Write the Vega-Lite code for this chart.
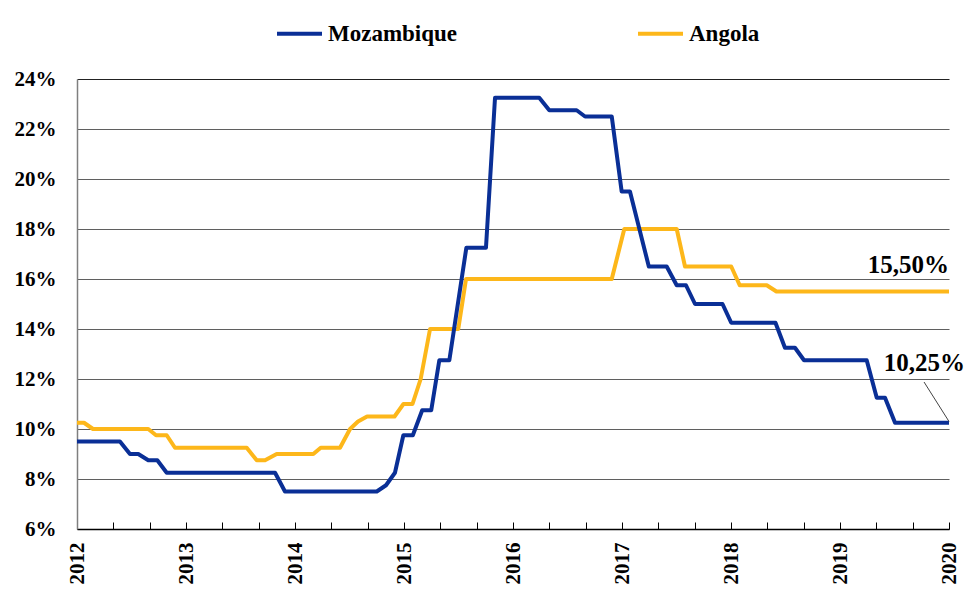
{
  "$schema": "https://vega.github.io/schema/vega-lite/v6.json",
  "autosize": {"type": "none"},
  "width": 872,
  "height": 450,
  "padding": {"left": 77, "top": 79, "right": 20, "bottom": 60},
  "background": "white",
  "config": {
    "view": {"stroke": null},
    "font": "Liberation Serif",
    "axis": {"labelFont": "Liberation Serif", "labelFontWeight": "bold", "labelColor": "black"},
    "legend": {"labelFont": "Liberation Serif", "labelFontWeight": "bold"}
  },
  "resolve": {"axis": {"x": "independent"}},
  "layer": [
    {
      "data": {
        "values": [
          {"country": "Angola", "t": 2012.000, "v": 10.25},
          {"country": "Angola", "t": 2012.064, "v": 10.25},
          {"country": "Angola", "t": 2012.147, "v": 10.0},
          {"country": "Angola", "t": 2012.654, "v": 10.0},
          {"country": "Angola", "t": 2012.725, "v": 9.75},
          {"country": "Angola", "t": 2012.823, "v": 9.75},
          {"country": "Angola", "t": 2012.899, "v": 9.25},
          {"country": "Angola", "t": 2013.557, "v": 9.25},
          {"country": "Angola", "t": 2013.649, "v": 8.75},
          {"country": "Angola", "t": 2013.725, "v": 8.75},
          {"country": "Angola", "t": 2013.832, "v": 9.0},
          {"country": "Angola", "t": 2014.168, "v": 9.0},
          {"country": "Angola", "t": 2014.236, "v": 9.25},
          {"country": "Angola", "t": 2014.413, "v": 9.25},
          {"country": "Angola", "t": 2014.505, "v": 10.0},
          {"country": "Angola", "t": 2014.578, "v": 10.3},
          {"country": "Angola", "t": 2014.661, "v": 10.5},
          {"country": "Angola", "t": 2014.913, "v": 10.5},
          {"country": "Angola", "t": 2014.995, "v": 11.0},
          {"country": "Angola", "t": 2015.078, "v": 11.0},
          {"country": "Angola", "t": 2015.153, "v": 12.0},
          {"country": "Angola", "t": 2015.239, "v": 14.0},
          {"country": "Angola", "t": 2015.498, "v": 14.0},
          {"country": "Angola", "t": 2015.569, "v": 16.0},
          {"country": "Angola", "t": 2016.906, "v": 16.0},
          {"country": "Angola", "t": 2017.021, "v": 18.0},
          {"country": "Angola", "t": 2017.502, "v": 18.0},
          {"country": "Angola", "t": 2017.578, "v": 16.5},
          {"country": "Angola", "t": 2018.002, "v": 16.5},
          {"country": "Angola", "t": 2018.080, "v": 15.75},
          {"country": "Angola", "t": 2018.328, "v": 15.75},
          {"country": "Angola", "t": 2018.417, "v": 15.5},
          {"country": "Angola", "t": 2020.000, "v": 15.5},
          {"country": "Mozambique", "t": 2012.000, "v": 9.5},
          {"country": "Mozambique", "t": 2012.394, "v": 9.5},
          {"country": "Mozambique", "t": 2012.486, "v": 9.0},
          {"country": "Mozambique", "t": 2012.562, "v": 9.0},
          {"country": "Mozambique", "t": 2012.654, "v": 8.75},
          {"country": "Mozambique", "t": 2012.737, "v": 8.75},
          {"country": "Mozambique", "t": 2012.823, "v": 8.25},
          {"country": "Mozambique", "t": 2013.817, "v": 8.25},
          {"country": "Mozambique", "t": 2013.908, "v": 7.5},
          {"country": "Mozambique", "t": 2014.750, "v": 7.5},
          {"country": "Mozambique", "t": 2014.835, "v": 7.75},
          {"country": "Mozambique", "t": 2014.917, "v": 8.25},
          {"country": "Mozambique", "t": 2014.994, "v": 9.75},
          {"country": "Mozambique", "t": 2015.081, "v": 9.75},
          {"country": "Mozambique", "t": 2015.167, "v": 10.75},
          {"country": "Mozambique", "t": 2015.250, "v": 10.75},
          {"country": "Mozambique", "t": 2015.324, "v": 12.75},
          {"country": "Mozambique", "t": 2015.416, "v": 12.75},
          {"country": "Mozambique", "t": 2015.572, "v": 17.25},
          {"country": "Mozambique", "t": 2015.752, "v": 17.25},
          {"country": "Mozambique", "t": 2015.835, "v": 23.25},
          {"country": "Mozambique", "t": 2016.241, "v": 23.25},
          {"country": "Mozambique", "t": 2016.333, "v": 22.75},
          {"country": "Mozambique", "t": 2016.584, "v": 22.75},
          {"country": "Mozambique", "t": 2016.661, "v": 22.5},
          {"country": "Mozambique", "t": 2016.906, "v": 22.5},
          {"country": "Mozambique", "t": 2016.997, "v": 19.5},
          {"country": "Mozambique", "t": 2017.073, "v": 19.5},
          {"country": "Mozambique", "t": 2017.246, "v": 16.5},
          {"country": "Mozambique", "t": 2017.410, "v": 16.5},
          {"country": "Mozambique", "t": 2017.502, "v": 15.75},
          {"country": "Mozambique", "t": 2017.587, "v": 15.75},
          {"country": "Mozambique", "t": 2017.670, "v": 15.0},
          {"country": "Mozambique", "t": 2017.922, "v": 15.0},
          {"country": "Mozambique", "t": 2018.002, "v": 14.25},
          {"country": "Mozambique", "t": 2018.408, "v": 14.25},
          {"country": "Mozambique", "t": 2018.495, "v": 13.25},
          {"country": "Mozambique", "t": 2018.587, "v": 13.25},
          {"country": "Mozambique", "t": 2018.670, "v": 12.75},
          {"country": "Mozambique", "t": 2019.245, "v": 12.75},
          {"country": "Mozambique", "t": 2019.337, "v": 11.25},
          {"country": "Mozambique", "t": 2019.413, "v": 11.25},
          {"country": "Mozambique", "t": 2019.505, "v": 10.25},
          {"country": "Mozambique", "t": 2020.000, "v": 10.25}
        ]
      },
      "mark": {"type": "line", "strokeWidth": 4, "strokeJoin": "round", "strokeCap": "butt"},
      "encoding": {
        "x": {
          "field": "t", "type": "quantitative",
          "scale": {"domain": [2012, 2020], "nice": false, "zero": false},
          "axis": {
            "orient": "bottom",
            "title": null,
            "grid": false,
            "labels": false,
            "values": [2012, 2012.3333, 2012.6667, 2013, 2013.3333, 2013.6667, 2014, 2014.3333, 2014.6667, 2015, 2015.3333, 2015.6667, 2016, 2016.3333, 2016.6667, 2017, 2017.3333, 2017.6667, 2018, 2018.3333, 2018.6667, 2019, 2019.3333, 2019.6667, 2020],
            "tickSize": -7,
            "tickColor": "black",
            "tickWidth": 1,
            "domainColor": "black",
            "domainWidth": 1.5
          }
        },
        "y": {
          "field": "v", "type": "quantitative",
          "scale": {"domain": [6, 24], "nice": false, "zero": false},
          "axis": {
            "title": null,
            "values": [6, 8, 10, 12, 14, 16, 18, 20, 22, 24],
            "labelExpr": "datum.value + '%'",
            "labelFontSize": 21,
            "labelPadding": 21,
            "ticks": false,
            "domainColor": "#7f7f7f",
            "domainWidth": 1.5,
            "grid": true,
            "gridColor": {"condition": {"test": "datum.value == 24", "value": "#222222"}, "value": "#5f5f5f"},
            "gridWidth": 1.2,
            "gridOpacity": 1
          }
        },
        "color": {
          "field": "country", "type": "nominal",
          "scale": {"domain": ["Mozambique", "Angola"], "range": ["#0A2F96", "#FDB71A"]},
          "legend": {
            "title": null,
            "orient": "none",
            "legendX": 198,
            "legendY": -70,
            "direction": "horizontal",
            "padding": 0,
            "symbolType": "stroke",
            "symbolSize": 2025,
            "symbolStrokeWidth": 4,
            "labelFontSize": 23,
            "labelOffset": 4,
            "columnPadding": 172,
            "labelColor": "black"
          }
        }
      }
    },
    {
      "data": {
        "values": [
          {"label": "15,50%", "t": 2020, "v": 16.25}
        ]
      },
      "mark": {"type": "text", "align": "right", "baseline": "alphabetic", "font": "Liberation Serif", "fontWeight": "bold", "fontSize": 25, "color": "black"},
      "encoding": {
        "x": {"field": "t", "type": "quantitative", "axis": null},
        "y": {"field": "v", "type": "quantitative"},
        "text": {"field": "label"}
      }
    },
    {
      "data": {
        "values": [
          {"label": "10,25%", "t": 2020, "v": 12.33}
        ]
      },
      "mark": {"type": "text", "align": "right", "baseline": "alphabetic", "dx": 16, "font": "Liberation Serif", "fontWeight": "bold", "fontSize": 25, "color": "black"},
      "encoding": {
        "x": {"field": "t", "type": "quantitative", "axis": null},
        "y": {"field": "v", "type": "quantitative"},
        "text": {"field": "label"}
      }
    },
    {
      "data": {
        "values": [
          {"t1": 2019.771, "v1": 11.88, "t2": 2020.0, "v2": 10.3}
        ]
      },
      "mark": {"type": "rule", "color": "#444444", "strokeWidth": 1},
      "encoding": {
        "x": {
          "field": "t1", "type": "quantitative",
          "axis": {
            "orient": "bottom",
            "title": null,
            "grid": false,
            "domain": false,
            "ticks": false,
            "values": [2012, 2013, 2014, 2015, 2016, 2017, 2018, 2019, 2020],
            "format": "d",
            "labelAngle": 270,
            "labelAlign": "right",
            "labelBaseline": "middle",
            "labelFontSize": 21,
            "labelPadding": 13,
            "labelOverlap": false,
            "labelFlush": false,
            "labelBound": false
          }
        },
        "y": {"field": "v1", "type": "quantitative"},
        "x2": {"field": "t2"},
        "y2": {"field": "v2"}
      }
    }
  ]
}
